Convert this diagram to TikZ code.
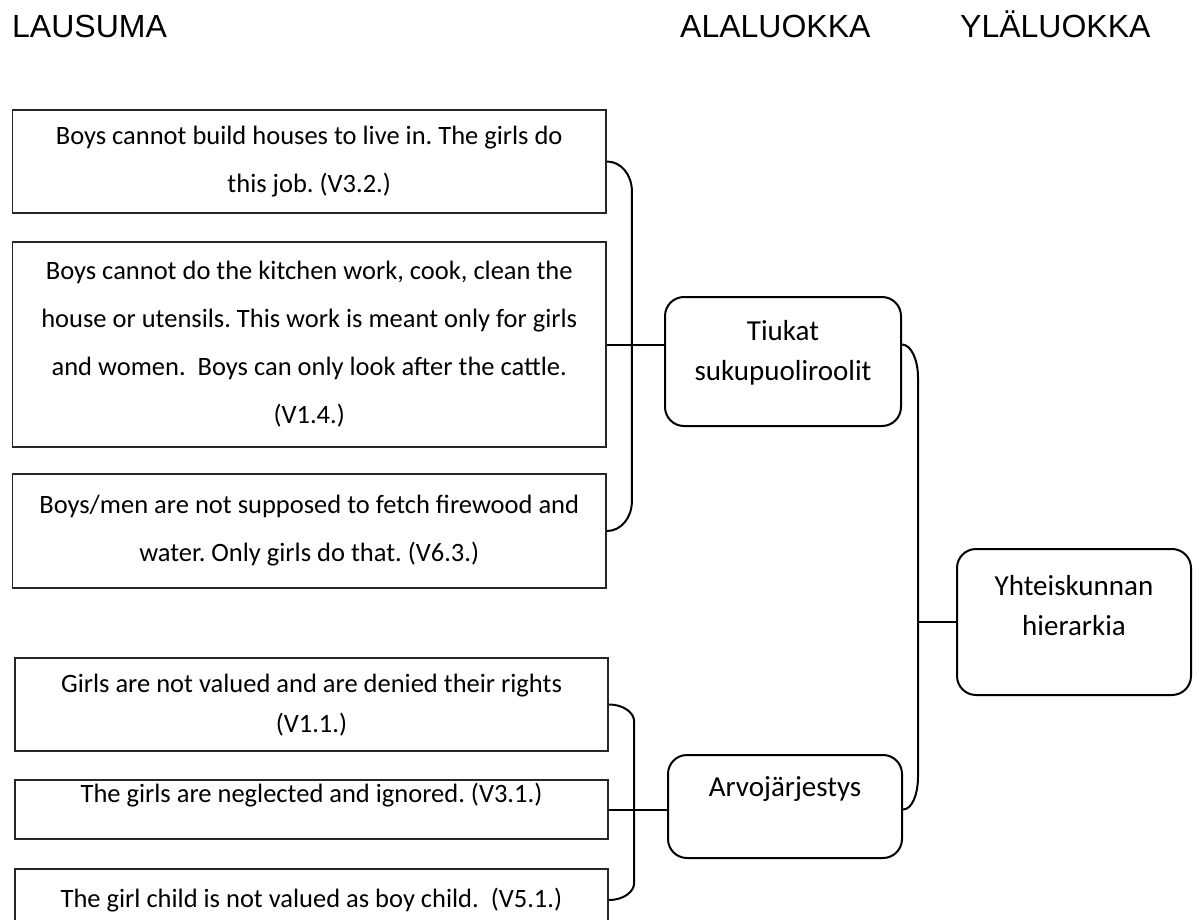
\documentclass[tikz,border=0pt]{standalone}
\usepackage{fontspec}
\setmainfont{Carlito}
\newfontfamily\headfont{Liberation Sans}
\usetikzlibrary{calc}
\frenchspacing

\tikzset{
  quote/.style={draw=black!85, line width=1.8pt, inner sep=0pt, align=center,
    minimum width=593.5pt, font=\fontsize{26.5}{48}\selectfont},
  category/.style={draw, line width=2pt, rounded corners=19pt, inner sep=0pt,
    align=center, font=\fontsize{29}{40}\selectfont},
  brace/.style={line width=2pt},
  link/.style={line width=2pt},
  heading/.style={anchor=base west, inner sep=0pt, font=\headfont\fontsize{32}{38}\selectfont}
}

\begin{document}
\begin{tikzpicture}[x=1pt, y=-1pt]
    \useasboundingbox (0,0) rectangle (1199,920);

    % Column headings
    \node (hlausuma) at (12,38) [heading] {LAUSUMA};
    \node (hala) at (680,38) [heading] {ALALUOKKA};
    \node (hyla) at (960,38) [heading] {YLÄLUOKKA};

    % Statements
    \node (b1) at (309.25,161.5) [quote, minimum height=103pt] {Boys cannot build houses to live in. The girls do\\this job. (V3.2.)};
    \node (b2) at (309.25,344.5) [quote, minimum height=205pt] {Boys cannot do the kitchen work, cook, clean the\\house or utensils. This work is meant only for girls\\and women. \ Boys can only look after the cattle.\\(V1.4.)};
    \node (b3) at (309.25,531) [quote, minimum height=114pt] {Boys/men are not supposed to fetch firewood and\\water. Only girls do that. (V6.3.)};
    \node (b4) at (311.5,704.5) [quote, minimum height=93pt, text depth=2pt, font=\fontsize{26.5}{40}\selectfont] {Girls are not valued and are denied their rights\\(V1.1.)};
    \node (b5) at (311.5,809.5) [quote, minimum height=59pt, text depth=34pt] {The girls are neglected and ignored. (V3.1.)};
    \node (b6) at (311.5,900) [quote, minimum height=62pt] {The girl child is not valued as boy child. \ (V5.1.)};

    % Sub categories
    \node (tiukat) at (783,361.5) [category, minimum width=236pt, minimum height=129pt, text depth=23pt] {Tiukat\\sukupuoliroolit};
    \node (arvo) at (785,806.5) [category, minimum width=234pt, minimum height=103pt, text depth=39pt] {Arvojärjestys};

    % Main category
    \node (yht) at (1074,622) [category, minimum width=234pt, minimum height=146pt, text depth=33pt] {Yhteiskunnan\\hierarkia};

    % Braces and links
    \draw[brace] (b1.east) .. controls +(14,0) and +(0,-17) .. ($(b1.east)+(25,30)$)
        -- ($(b3.east)+(25,-30)$) .. controls +(0,17) and +(14,0) .. (b3.east);
    \draw[link] (b2.east) -- (b2.east -| tiukat.west);

    \draw[brace] (b4.east) .. controls +(14,0) and +(0,-9) .. ($(b4.east)+(25,17)$)
        -- ($(b6.east)+(25,-17)$) .. controls +(0,9) and +(14,0) .. (b6.east);
    \draw[link] (b5.east) -- (b5.east -| arvo.west);

    \draw[brace] (tiukat.east |- b2.east) .. controls +(9,0) and +(0,-18) .. ($(tiukat.east |- b2.east)+(16,33)$)
        -- ($(arvo.east |- b5.east)+(15,-33)$) .. controls +(0,18) and +(9,0) .. (arvo.east |- b5.east);
    \coordinate (rbrace) at (917,622);
    \draw[link] (yht.west) -- (rbrace);
\end{tikzpicture}
\end{document}
